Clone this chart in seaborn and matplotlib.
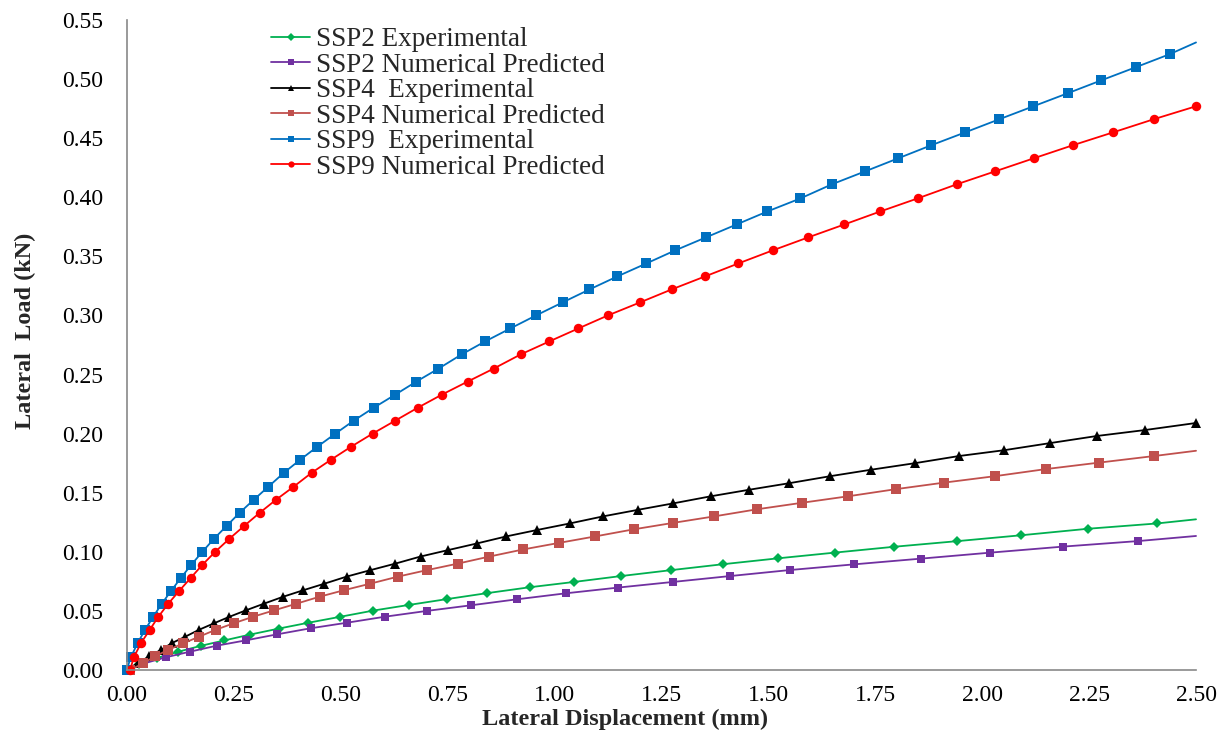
import matplotlib
matplotlib.use("Agg")
import matplotlib.pyplot as plt
import seaborn as sns
import pandas as pd

# ---------------- data ----------------
ssp2_exp_x = [0, 0.030, 0.072, 0.121, 0.174, 0.228, 0.289, 0.355, 0.425, 0.499, 0.577, 0.659,
              0.749, 0.842, 0.942, 1.046, 1.156, 1.273, 1.394, 1.523, 1.655, 1.795, 1.941,
              2.091, 2.247, 2.409, 2.500]
ssp2_exp_y = [0, 0.005, 0.0103, 0.0155, 0.0205, 0.025, 0.030, 0.035, 0.040, 0.045, 0.0503, 0.055,
              0.060, 0.065, 0.070, 0.0745, 0.0795, 0.0845, 0.0895, 0.0945, 0.0993, 0.1043, 0.109,
              0.114, 0.1195, 0.124, 0.1275]

ssp2_num_x = [0, 0.040, 0.091, 0.148, 0.211, 0.279, 0.352, 0.430, 0.515, 0.604, 0.702, 0.804,
              0.912, 1.027, 1.148, 1.277, 1.411, 1.551, 1.701, 1.856, 2.019, 2.189, 2.365, 2.500]
ssp2_num_y = [0, 0.0055, 0.0107, 0.0155, 0.0206, 0.0251, 0.0302, 0.0353, 0.040, 0.0451, 0.050, 0.0547,
              0.0598, 0.0649, 0.0697, 0.0745, 0.0795, 0.0846, 0.0894, 0.0942, 0.0993, 0.1044, 0.1091, 0.1134]

ssp4_exp_x = [0, 0.026, 0.053, 0.080, 0.107, 0.136, 0.169, 0.204, 0.240, 0.279, 0.320, 0.366,
              0.413, 0.462, 0.514, 0.570, 0.628, 0.687, 0.752, 0.818, 0.887, 0.960, 1.036, 1.114,
              1.195, 1.278, 1.366, 1.455, 1.548, 1.645, 1.741, 1.843, 1.945, 2.052, 2.159, 2.268,
              2.380, 2.500]
ssp4_exp_y = [0, 0.006, 0.0115, 0.017, 0.023, 0.028, 0.034, 0.0395, 0.045, 0.0505, 0.056, 0.062,
              0.0675, 0.073, 0.079, 0.0845, 0.090, 0.096, 0.1015, 0.107, 0.113, 0.1185, 0.124, 0.130,
              0.1355, 0.141, 0.147, 0.1525, 0.158, 0.164, 0.1695, 0.175, 0.181, 0.186, 0.192, 0.198,
              0.203, 0.209]

ssp4_num_x = [0.008, 0.039, 0.066, 0.097, 0.132, 0.168, 0.208, 0.250, 0.295, 0.345, 0.396, 0.451,
              0.508, 0.569, 0.634, 0.702, 0.774, 0.848, 0.927, 1.010, 1.095, 1.185, 1.278, 1.374,
              1.474, 1.579, 1.687, 1.798, 1.910, 2.030, 2.149, 2.274, 2.401, 2.500]
ssp4_num_y = [0, 0.0057, 0.0115, 0.017, 0.0225, 0.028, 0.034, 0.0395, 0.045, 0.0505, 0.056, 0.062,
              0.0675, 0.073, 0.079, 0.0845, 0.090, 0.096, 0.102, 0.1075, 0.113, 0.119, 0.1245, 0.130,
              0.136, 0.1415, 0.147, 0.153, 0.1585, 0.164, 0.170, 0.1755, 0.181, 0.1855]

ssp9_exp_x = [0, 0.010, 0.026, 0.043, 0.062, 0.082, 0.104, 0.127, 0.151, 0.177, 0.204, 0.234,
              0.264, 0.297, 0.331, 0.368, 0.406, 0.446, 0.488, 0.531, 0.578, 0.628, 0.677, 0.729,
              0.783, 0.838, 0.897, 0.957, 1.019, 1.082, 1.147, 1.215, 1.282, 1.354, 1.426, 1.498,
              1.575, 1.649, 1.727, 1.804, 1.881, 1.961, 2.040, 2.120, 2.200, 2.279, 2.359, 2.438, 2.500]
ssp9_exp_y = [0, 0.011, 0.023, 0.034, 0.045, 0.056, 0.067, 0.078, 0.089, 0.100, 0.111, 0.122,
              0.133, 0.144, 0.155, 0.167, 0.178, 0.189, 0.200, 0.211, 0.222, 0.233, 0.244, 0.255,
              0.267, 0.278, 0.289, 0.300, 0.311, 0.322, 0.333, 0.344, 0.355, 0.366, 0.377, 0.388,
              0.399, 0.411, 0.422, 0.433, 0.444, 0.455, 0.466, 0.477, 0.488, 0.499, 0.510, 0.521, 0.531]

ssp9_num_x = [0.008, 0.017, 0.034, 0.054, 0.074, 0.097, 0.123, 0.150, 0.177, 0.207, 0.240, 0.275,
              0.311, 0.349, 0.390, 0.433, 0.478, 0.525, 0.575, 0.628, 0.681, 0.737, 0.797, 0.858,
              0.921, 0.988, 1.056, 1.125, 1.200, 1.274, 1.352, 1.430, 1.510, 1.593, 1.678, 1.762,
              1.849, 1.941, 2.031, 2.121, 2.212, 2.307, 2.401, 2.500]
ssp9_num_y = [0, 0.011, 0.023, 0.034, 0.045, 0.056, 0.067, 0.078, 0.089, 0.100, 0.111, 0.122,
              0.133, 0.144, 0.155, 0.167, 0.178, 0.189, 0.200, 0.211, 0.222, 0.233, 0.244, 0.255,
              0.267, 0.278, 0.289, 0.300, 0.311, 0.322, 0.333, 0.344, 0.355, 0.366, 0.377, 0.388,
              0.399, 0.411, 0.422, 0.433, 0.444, 0.455, 0.466, 0.477]

series_labels = ["SSP2 Experimental", "SSP2 Numerical Predicted", "SSP4  Experimental",
                 "SSP4 Numerical Predicted", "SSP9  Experimental", "SSP9 Numerical Predicted"]
x_ticks = [0.00, 0.25, 0.50, 0.75, 1.00, 1.25, 1.50, 1.75, 2.00, 2.25, 2.50]
y_ticks = [0.00, 0.05, 0.10, 0.15, 0.20, 0.25, 0.30, 0.35, 0.40, 0.45, 0.50, 0.55]

# ---------------- style ----------------
sns.set_style("white")
plt.rcParams["font.family"] = ["Liberation Serif", "DejaVu Serif"]

series = [
    (ssp2_exp_x, ssp2_exp_y, "#00B050", "D", 5.5, False),
    (ssp2_num_x, ssp2_num_y, "#7030A0", "s", 6.0, False),
    (ssp4_exp_x, ssp4_exp_y, "#000000", "^", 7.0, True),
    (ssp4_num_x, ssp4_num_y, "#C0504D", "s", 6.5, False),
    (ssp9_exp_x, ssp9_exp_y, "#0070C0", "s", 6.8, False),
    (ssp9_num_x, ssp9_num_y, "#FF0000", "o", 6.8, True),
]

fig = plt.figure(figsize=(12.32, 7.40), dpi=100)
ax = fig.add_axes([0.1028, 0.0946, 0.8680, 0.8784])

for (xs, ys, col, mk, ms, end_marker), lab in zip(series, series_labels):
    df = pd.DataFrame({"x": xs, "y": ys})
    me = None if end_marker else list(range(len(xs) - 1))
    sns.lineplot(data=df, x="x", y="y", ax=ax, color=col, marker=mk, markersize=ms,
                 markeredgewidth=0, linewidth=1.3, estimator=None, sort=False,
                 label=lab, markevery=me, clip_on=False)

ax.set_xlim(0, 2.5)
ax.set_ylim(0, 0.55)
ax.set_xticks(x_ticks)
ax.set_yticks(y_ticks)
ax.set_xticklabels([f"{v:.2f}" for v in x_ticks])
ax.set_yticklabels([f"{v:.2f}" for v in y_ticks])

for s in ["top", "right"]:
    ax.spines[s].set_visible(False)
for s in ["left", "bottom"]:
    ax.spines[s].set_color("#898989")
    ax.spines[s].set_linewidth(1.2)

ax.tick_params(axis="both", direction="out", length=6, width=1.2, color="#898989",
               labelcolor="black", labelsize=17)
ax.tick_params(axis="y", pad=11)
ax.tick_params(axis="x", pad=5)

ax.set_xlabel("Lateral Displacement (mm)", fontsize=17.5, fontweight="bold")
ax.set_ylabel("Lateral  Load (kN)", fontsize=17.5, fontweight="bold")
ax.xaxis.set_label_coords(0.466, -0.060)
ax.yaxis.set_label_coords(-0.085, 0.522)

leg = ax.legend(loc="upper left", bbox_to_anchor=(271 / 1232, 1 - 27 / 740),
                bbox_transform=fig.transFigure, frameon=False, fontsize=19.5,
                handlelength=1.45, handletextpad=0.2, labelspacing=0.02,
                borderpad=0, borderaxespad=0)
for h in leg.legend_handles:
    h.set_markersize(4.5)

fig.savefig("out.png", dpi=100)
